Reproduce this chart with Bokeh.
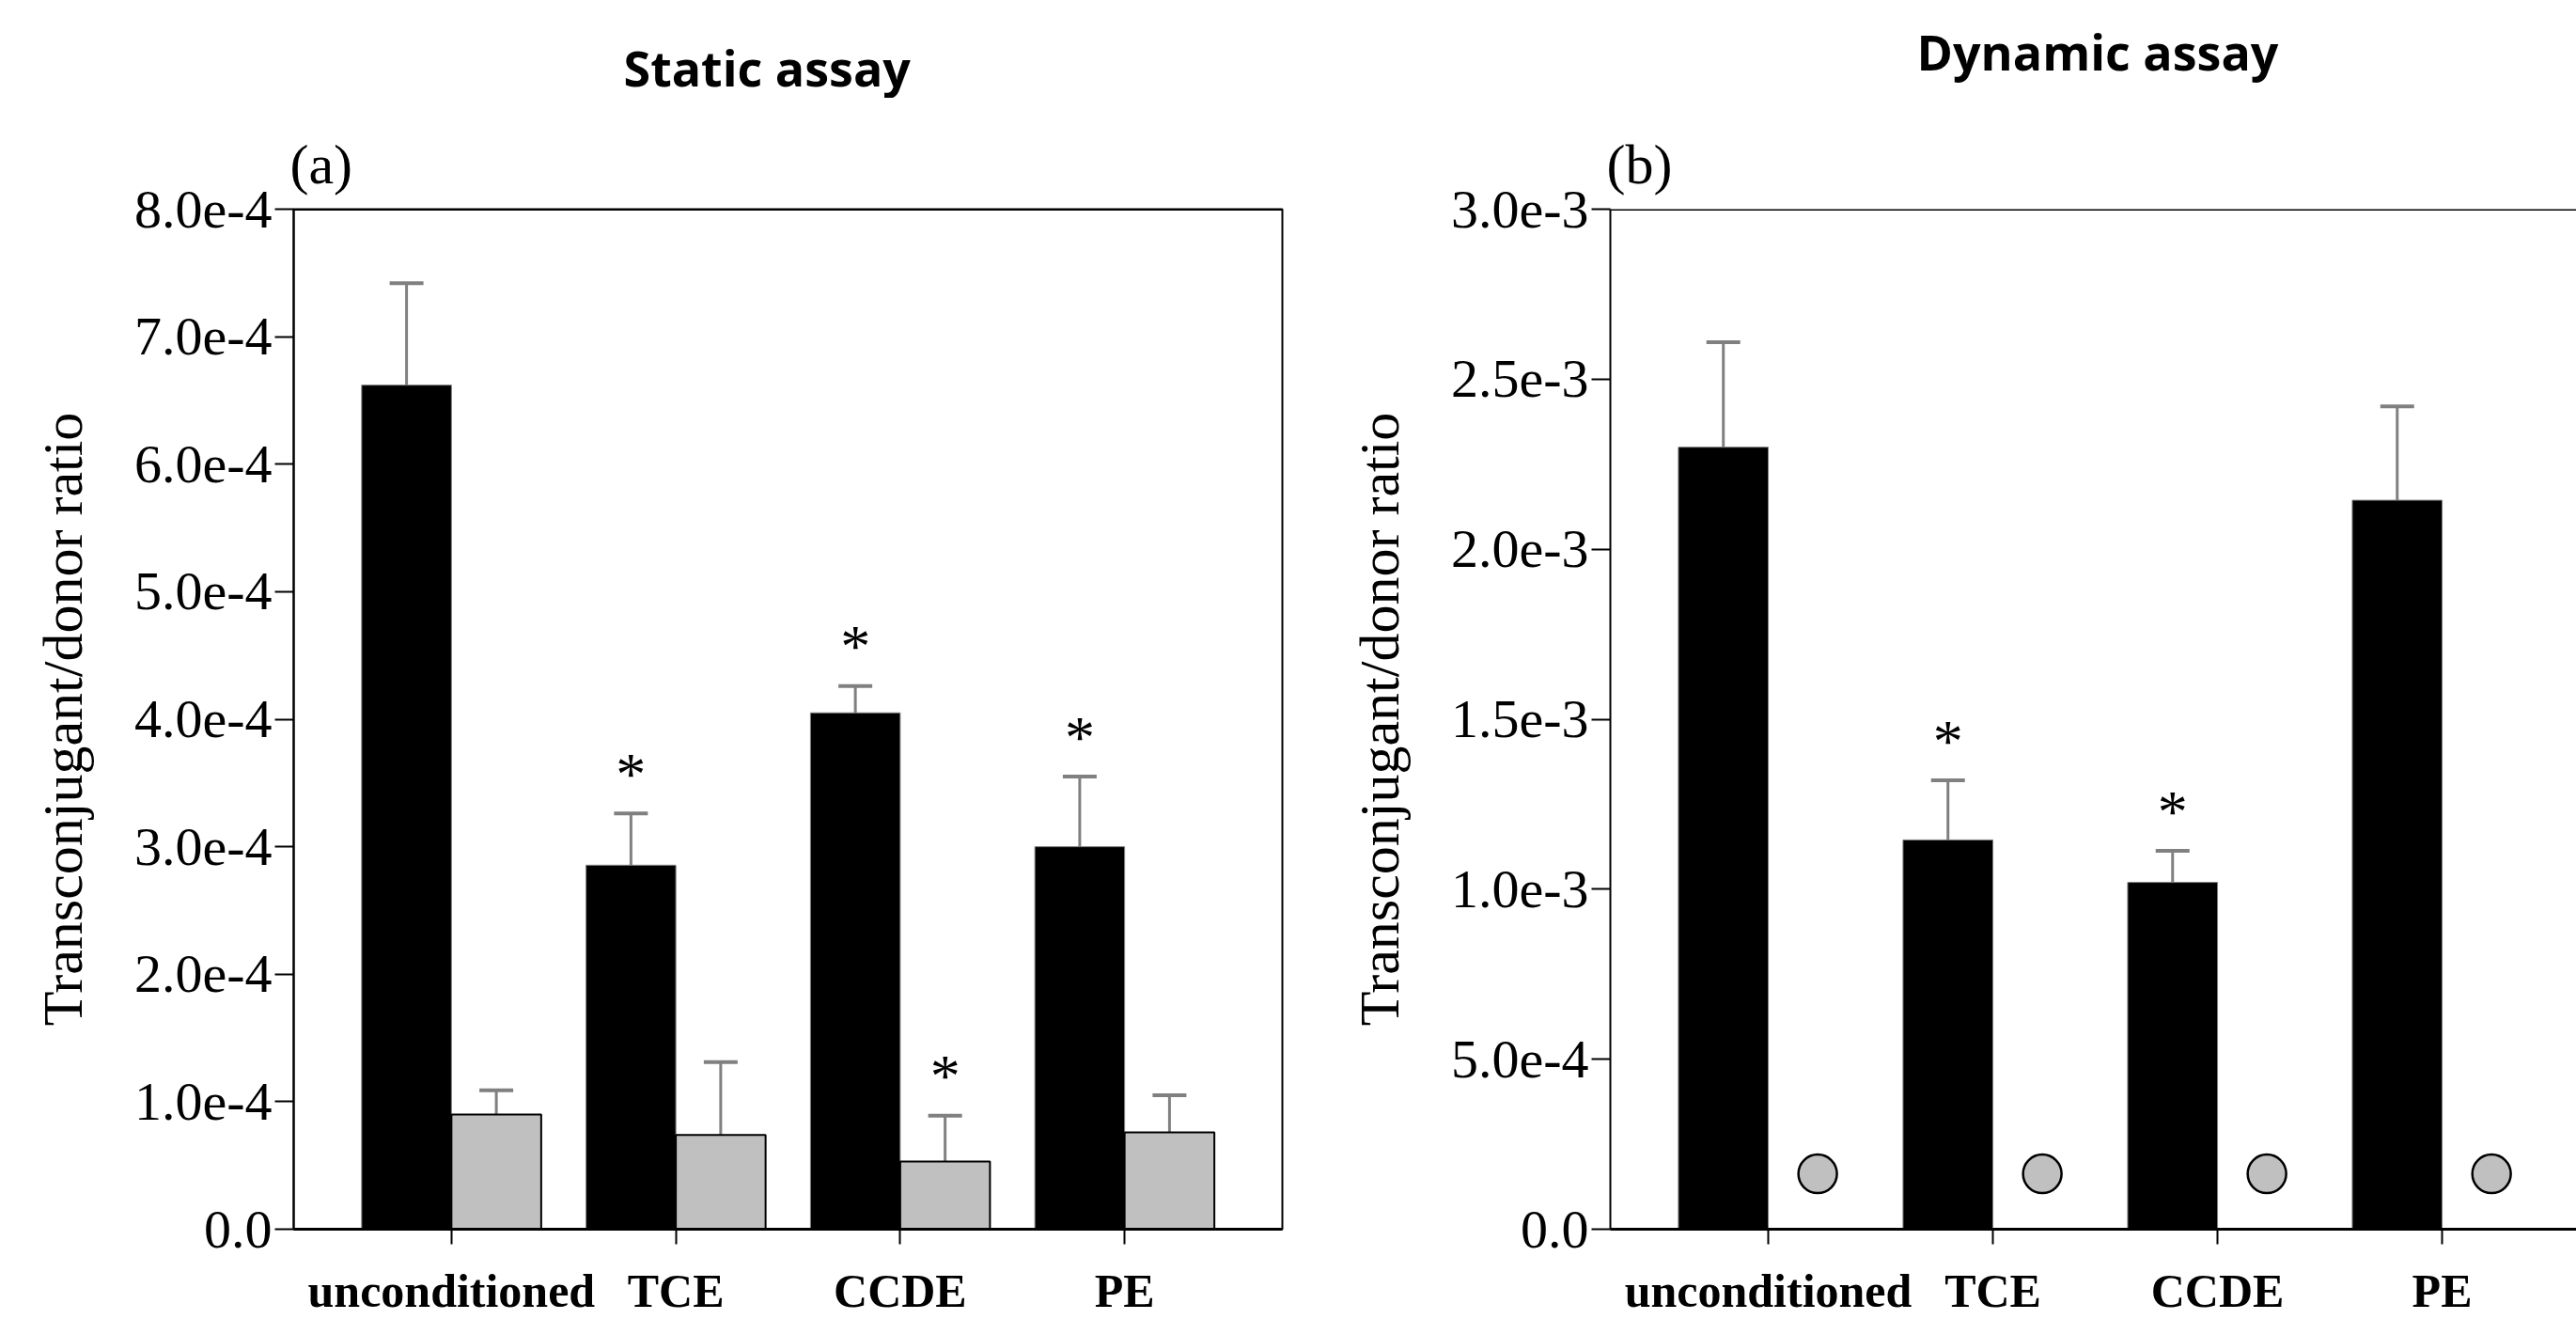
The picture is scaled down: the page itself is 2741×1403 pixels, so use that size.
from bokeh.plotting import figure
from bokeh.models import Range1d, FixedTicker, Whisker, TeeHead, ColumnDataSource, Span
from bokeh.layouts import row, column
from bokeh.embed import file_html
from bokeh.resources import INLINE
from bokeh.core.properties import value

categories = ["unconditioned", "TCE", "CCDE", "PE"]

# Static assay (a)
static_black = [6.62e-4, 2.855e-4, 4.05e-4, 3.0e-4]
static_black_lo = [5.83e-4, 2.43e-4, 3.84e-4, 2.45e-4]
static_black_hi = [7.42e-4, 3.26e-4, 4.26e-4, 3.55e-4]
static_gray = [0.90e-4, 0.74e-4, 0.53e-4, 0.76e-4]
static_gray_lo = [0.71e-4, 0.16e-4, 0.16e-4, 0.47e-4]
static_gray_hi = [1.09e-4, 1.31e-4, 0.89e-4, 1.05e-4]
static_black_sig = [False, True, True, True]
static_gray_sig = [False, False, True, False]
static_ticks = [0.0, 1e-4, 2e-4, 3e-4, 4e-4, 5e-4, 6e-4, 7e-4, 8e-4]
static_tick_labels = ["0.0", "1.0e-4", "2.0e-4", "3.0e-4", "4.0e-4", "5.0e-4", "6.0e-4", "7.0e-4", "8.0e-4"]

# Dynamic assay (b)
dynamic_black = [2.30e-3, 1.145e-3, 1.02e-3, 2.144e-3]
dynamic_black_lo = [1.977e-3, 0.967e-3, 0.922e-3, 1.865e-3]
dynamic_black_hi = [2.609e-3, 1.32e-3, 1.113e-3, 2.42e-3]
dynamic_gray = [1.63e-4, 1.63e-4, 1.63e-4, 1.63e-4]
dynamic_black_sig = [False, True, True, False]
dynamic_ticks = [0.0, 5e-4, 1e-3, 1.5e-3, 2e-3, 2.5e-3, 3e-3]
dynamic_tick_labels = ["0.0", "5.0e-4", "1.0e-3", "1.5e-3", "2.0e-3", "2.5e-3", "3.0e-3"]

panel_titles = ["Static assay", "Dynamic assay"]
panel_labels = ["(a)", "(b)"]

SERIF = "Liberation Serif"
ERR = "#808080"
GRAY = "#c0c0c0"
BW = 0.4
W = 2741
H = 1403
TITLE_H = 104
TOP = 222
FRAME_H = 1087
X0 = -0.703
LEFT_W = 1400
LEFT_BORDER = 312
RIGHT_BORDER = 313


def base_fig(width, ymax, ticks, tick_labels, xend, border_left, border_right, label):
    p = figure(width=width, height=H - TITLE_H, output_backend="svg", toolbar_location=None,
               x_range=Range1d(X0, xend), y_range=Range1d(0, ymax),
               min_border_left=border_left, min_border_right=border_right,
               min_border_top=TOP - TITLE_H, min_border_bottom=H - TOP - FRAME_H, title=label)
    p.title.text_font = SERIF
    p.title.text_font_size = "60px"
    p.title.text_font_style = "normal"
    p.title.text_color = "black"
    p.title.align = "left"
    p.title.offset = -4
    p.title.standoff = 30
    p.xgrid.visible = False
    p.ygrid.visible = False
    p.background_fill_color = "white"
    p.border_fill_color = "white"

    xa = p.xaxis[0]
    xa.ticker = FixedTicker(ticks=[0, 1, 2, 3])
    xa.major_label_overrides = {i: c for i, c in enumerate(categories)}
    xa.major_label_text_font = SERIF
    xa.major_label_text_font_size = "50px"
    xa.major_label_text_font_style = "bold"
    xa.major_label_text_color = "black"
    xa.major_label_standoff = 21
    xa.major_tick_in = 0
    xa.major_tick_out = 16
    xa.major_tick_line_width = 2
    xa.minor_tick_line_color = None
    xa.axis_line_width = 3
    xa.axis_line_color = "black"

    ya = p.yaxis[0]
    ya.ticker = FixedTicker(ticks=ticks)
    ya.major_label_overrides = dict(zip(ticks, tick_labels))
    ya.major_label_text_font = SERIF
    ya.major_label_text_font_size = "58px"
    ya.major_label_text_color = "black"
    ya.major_label_standoff = 3
    ya.major_tick_in = 0
    ya.major_tick_out = 20
    ya.major_tick_line_width = 2
    ya.minor_tick_line_color = None
    ya.axis_line_width = 2
    ya.axis_line_color = "black"
    ya.axis_label = "Transconjugant/donor ratio"
    ya.axis_label_text_font = SERIF
    ya.axis_label_text_font_size = "60px"
    ya.axis_label_text_font_style = "normal"
    ya.axis_label_text_color = "black"
    ya.axis_label_standoff = 40

    p.add_layout(Span(location=ymax, dimension="width", line_color="black", line_width=3))
    return p


def add_bars(p, x, top, lo, hi, sig, fill, line, lw, ymax):
    src = ColumnDataSource(dict(x=x, top=top, lo=lo, hi=hi))
    p.vbar(x="x", top="top", bottom=0, width=BW, source=src, fill_color=fill, line_color=line, line_width=lw)
    p.add_layout(Whisker(source=src, base="x", upper="hi", lower="lo", line_color=ERR, line_width=3,
                         upper_head=TeeHead(size=36, line_color=ERR, line_width=4),
                         lower_head=TeeHead(size=36, line_color=ERR, line_width=4)))
    px = ymax / FRAME_H  # data units per pixel
    sx = [xi for xi, s in zip(x, sig) if s]
    sy = [h + 42 * px for h, s in zip(hi, sig) if s]
    if sx:
        p.text(x=sx, y=sy, text=["*"] * len(sx), text_font=value(SERIF), text_font_size="64px",
               text_align="center", text_baseline="alphabetic", text_color="black")


idx = list(range(len(categories)))

# Title strip (screen-pixel coordinates)
tf = figure(width=W, height=TITLE_H, output_backend="svg", toolbar_location=None,
            x_range=Range1d(0, W), y_range=Range1d(TITLE_H, 0), min_border=0, title=None)
tf.axis.visible = False
tf.xgrid.visible = False
tf.ygrid.visible = False
tf.outline_line_color = None
tf.background_fill_color = "white"
tf.border_fill_color = "white"
title_x = [LEFT_BORDER + 351, LEFT_W + RIGHT_BORDER + 326]
title_y = [71, 54]
tf.text(x=title_x, y=title_y, text=panel_titles, text_font=value("Open Sans"), text_font_size="52px",
        text_font_style="bold", text_color="black", text_align="left", text_baseline="middle")

# Left panel
p1 = base_fig(LEFT_W, 8e-4, static_ticks, static_tick_labels, 3.703, LEFT_BORDER, 36, panel_labels[0])
p1.outline_line_color = "black"
p1.outline_line_width = 2
add_bars(p1, [i - BW / 2 for i in idx], static_black, static_black_lo, static_black_hi, static_black_sig,
         "black", "#808080", 1, 8e-4)
add_bars(p1, [i + BW / 2 for i in idx], static_gray, static_gray_lo, static_gray_hi, static_gray_sig,
         GRAY, "black", 2, 8e-4)

# Right panel
p2 = base_fig(W - LEFT_W, 3e-3, dynamic_ticks, dynamic_tick_labels, 3.598, RIGHT_BORDER, 0, panel_labels[1])
p2.outline_line_color = None
add_bars(p2, [i - BW / 2 for i in idx], dynamic_black, dynamic_black_lo, dynamic_black_hi, dynamic_black_sig,
         "black", "#808080", 1, 3e-3)
p2.scatter(x=[i + 0.22 for i in idx], y=dynamic_gray, marker="circle", size=41, fill_color=GRAY,
           line_color="black", line_width=2.5)

layout = column(tf, row(p1, p2))
open("out.html", "w").write(file_html(layout, INLINE))
